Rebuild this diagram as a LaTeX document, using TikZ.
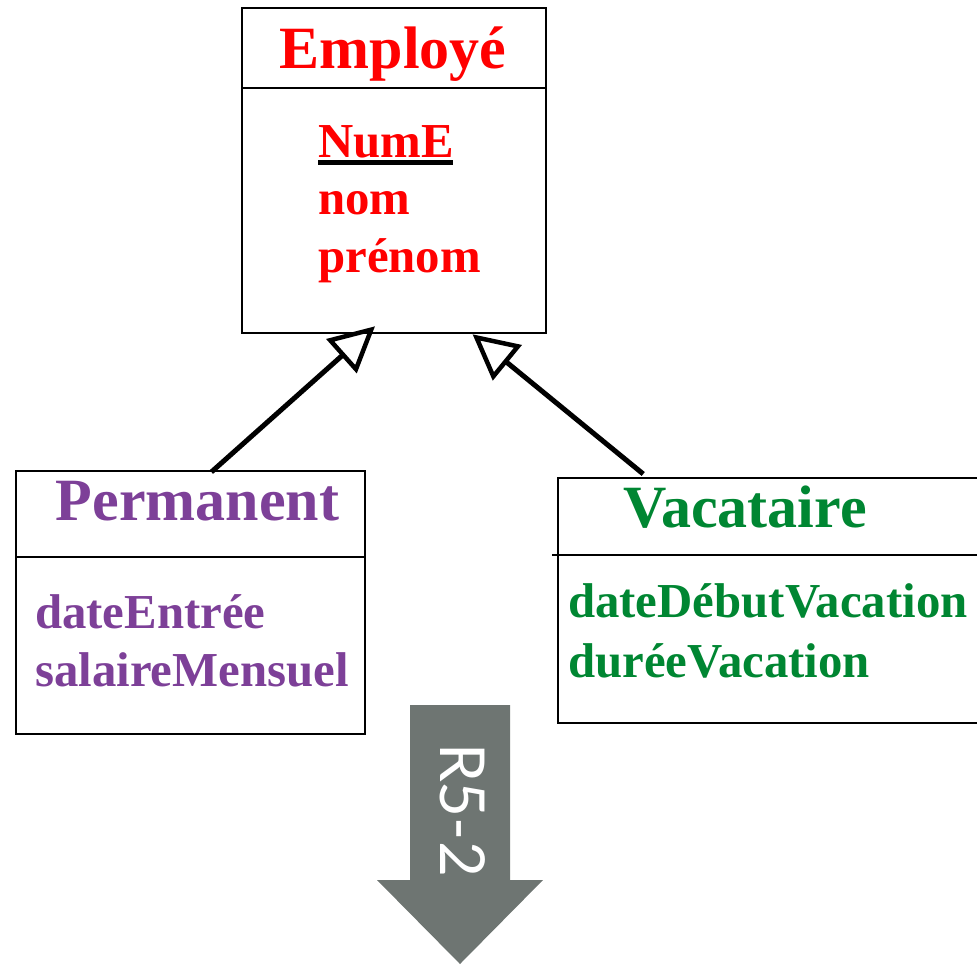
\documentclass[tikz,border=0pt]{standalone}
\usepackage{fontspec}
\setmainfont{Liberation Serif}
\newfontfamily\arrowfont{Lato}
\usetikzlibrary{arrows.meta,calc}
\definecolor{empred}{RGB}{255,0,0}
\definecolor{permpurple}{RGB}{125,64,152}
\definecolor{vacgreen}{RGB}{0,134,50}
\definecolor{stepgrey}{RGB}{110,117,114}
\tikzset{
  classbox/.style={draw=black, line width=2.3pt, rectangle, inner sep=0pt, anchor=north west},
  divider/.style={line width=2.3pt},
  ctitle/.style={font=\bfseries\fontsize{60}{60}\selectfont, inner sep=0pt, anchor=base},
  cattr/.style={font=\bfseries\fontsize{48.8}{48.8}\selectfont, inner sep=0pt, anchor=base west},
  inherit/.style={line width=5pt, -{Triangle[open, length=45pt, width=45pt, line width=4.5pt]}},
}
\begin{document}
\begin{tikzpicture}[x=1pt, y=-1pt]
\useasboundingbox (0,0) rectangle (977,964);

% Employé
\node[classbox, minimum width=304pt, minimum height=325pt] (emp) at (241,7) {};
\draw[divider] (241,88) -- (545,88);
\node[ctitle, text=empred] (empname) at (393,68) {Employé};
\node[cattr, text=empred] (numE) at (318,157) {NumE};
\draw[line width=4.5pt] (318,162.5) -- (453,162.5);
\node[cattr, text=empred] (nom) at (318,214) {nom};
\node[cattr, text=empred] (prenom) at (318,272) {prénom};

% Permanent
\node[classbox, minimum width=349pt, minimum height=263pt] (perm) at (15,470) {};
\draw[divider] (15,557) -- (364,557);
\node[ctitle, text=permpurple] (permname) at (197.5,520) {Permanent};
\node[cattr, text=permpurple] (dateE) at (35,628) {dateEntrée};
\node[cattr, text=permpurple] (sal) at (35,686) {salaireMensuel};

% Vacataire (runs past the right edge)
\node[classbox, minimum width=440pt, minimum height=245pt] (vac) at (557,477) {};
\draw[divider] (552,555) -- (997,555);
\node[ctitle, text=vacgreen] (vacname) at (745,527) {Vacataire};
\node[cattr, text=vacgreen] (dateD) at (568,617) {dateDébutVacation};
\node[cattr, text=vacgreen] (duree) at (568,677) {duréeVacation};

% Generalisation links
\draw[inherit] ($(perm.north west)!0.559!(perm.north east)+(0,2)$)
  -- ($(emp.south west)!0.4375!(emp.south east)+(0,-8)$);
\draw[inherit] ($(vac.north west)!0.195!(vac.north east)+(0,-3)$)
  -- ($(emp.south west)!0.756!(emp.south east)+(0,0)$);

% Transformation step arrow
\fill[stepgrey] (410,705) -- (510,705) -- (510,880) -- (543,880) -- (460,964)
  -- (377,880) -- (410,880) -- cycle;
\node[rotate=-90, text=white, inner sep=0pt, font=\arrowfont\fontsize{62}{62}\selectfont] (rule) at (463,810) {R5-2};
\end{tikzpicture}
\end{document}
